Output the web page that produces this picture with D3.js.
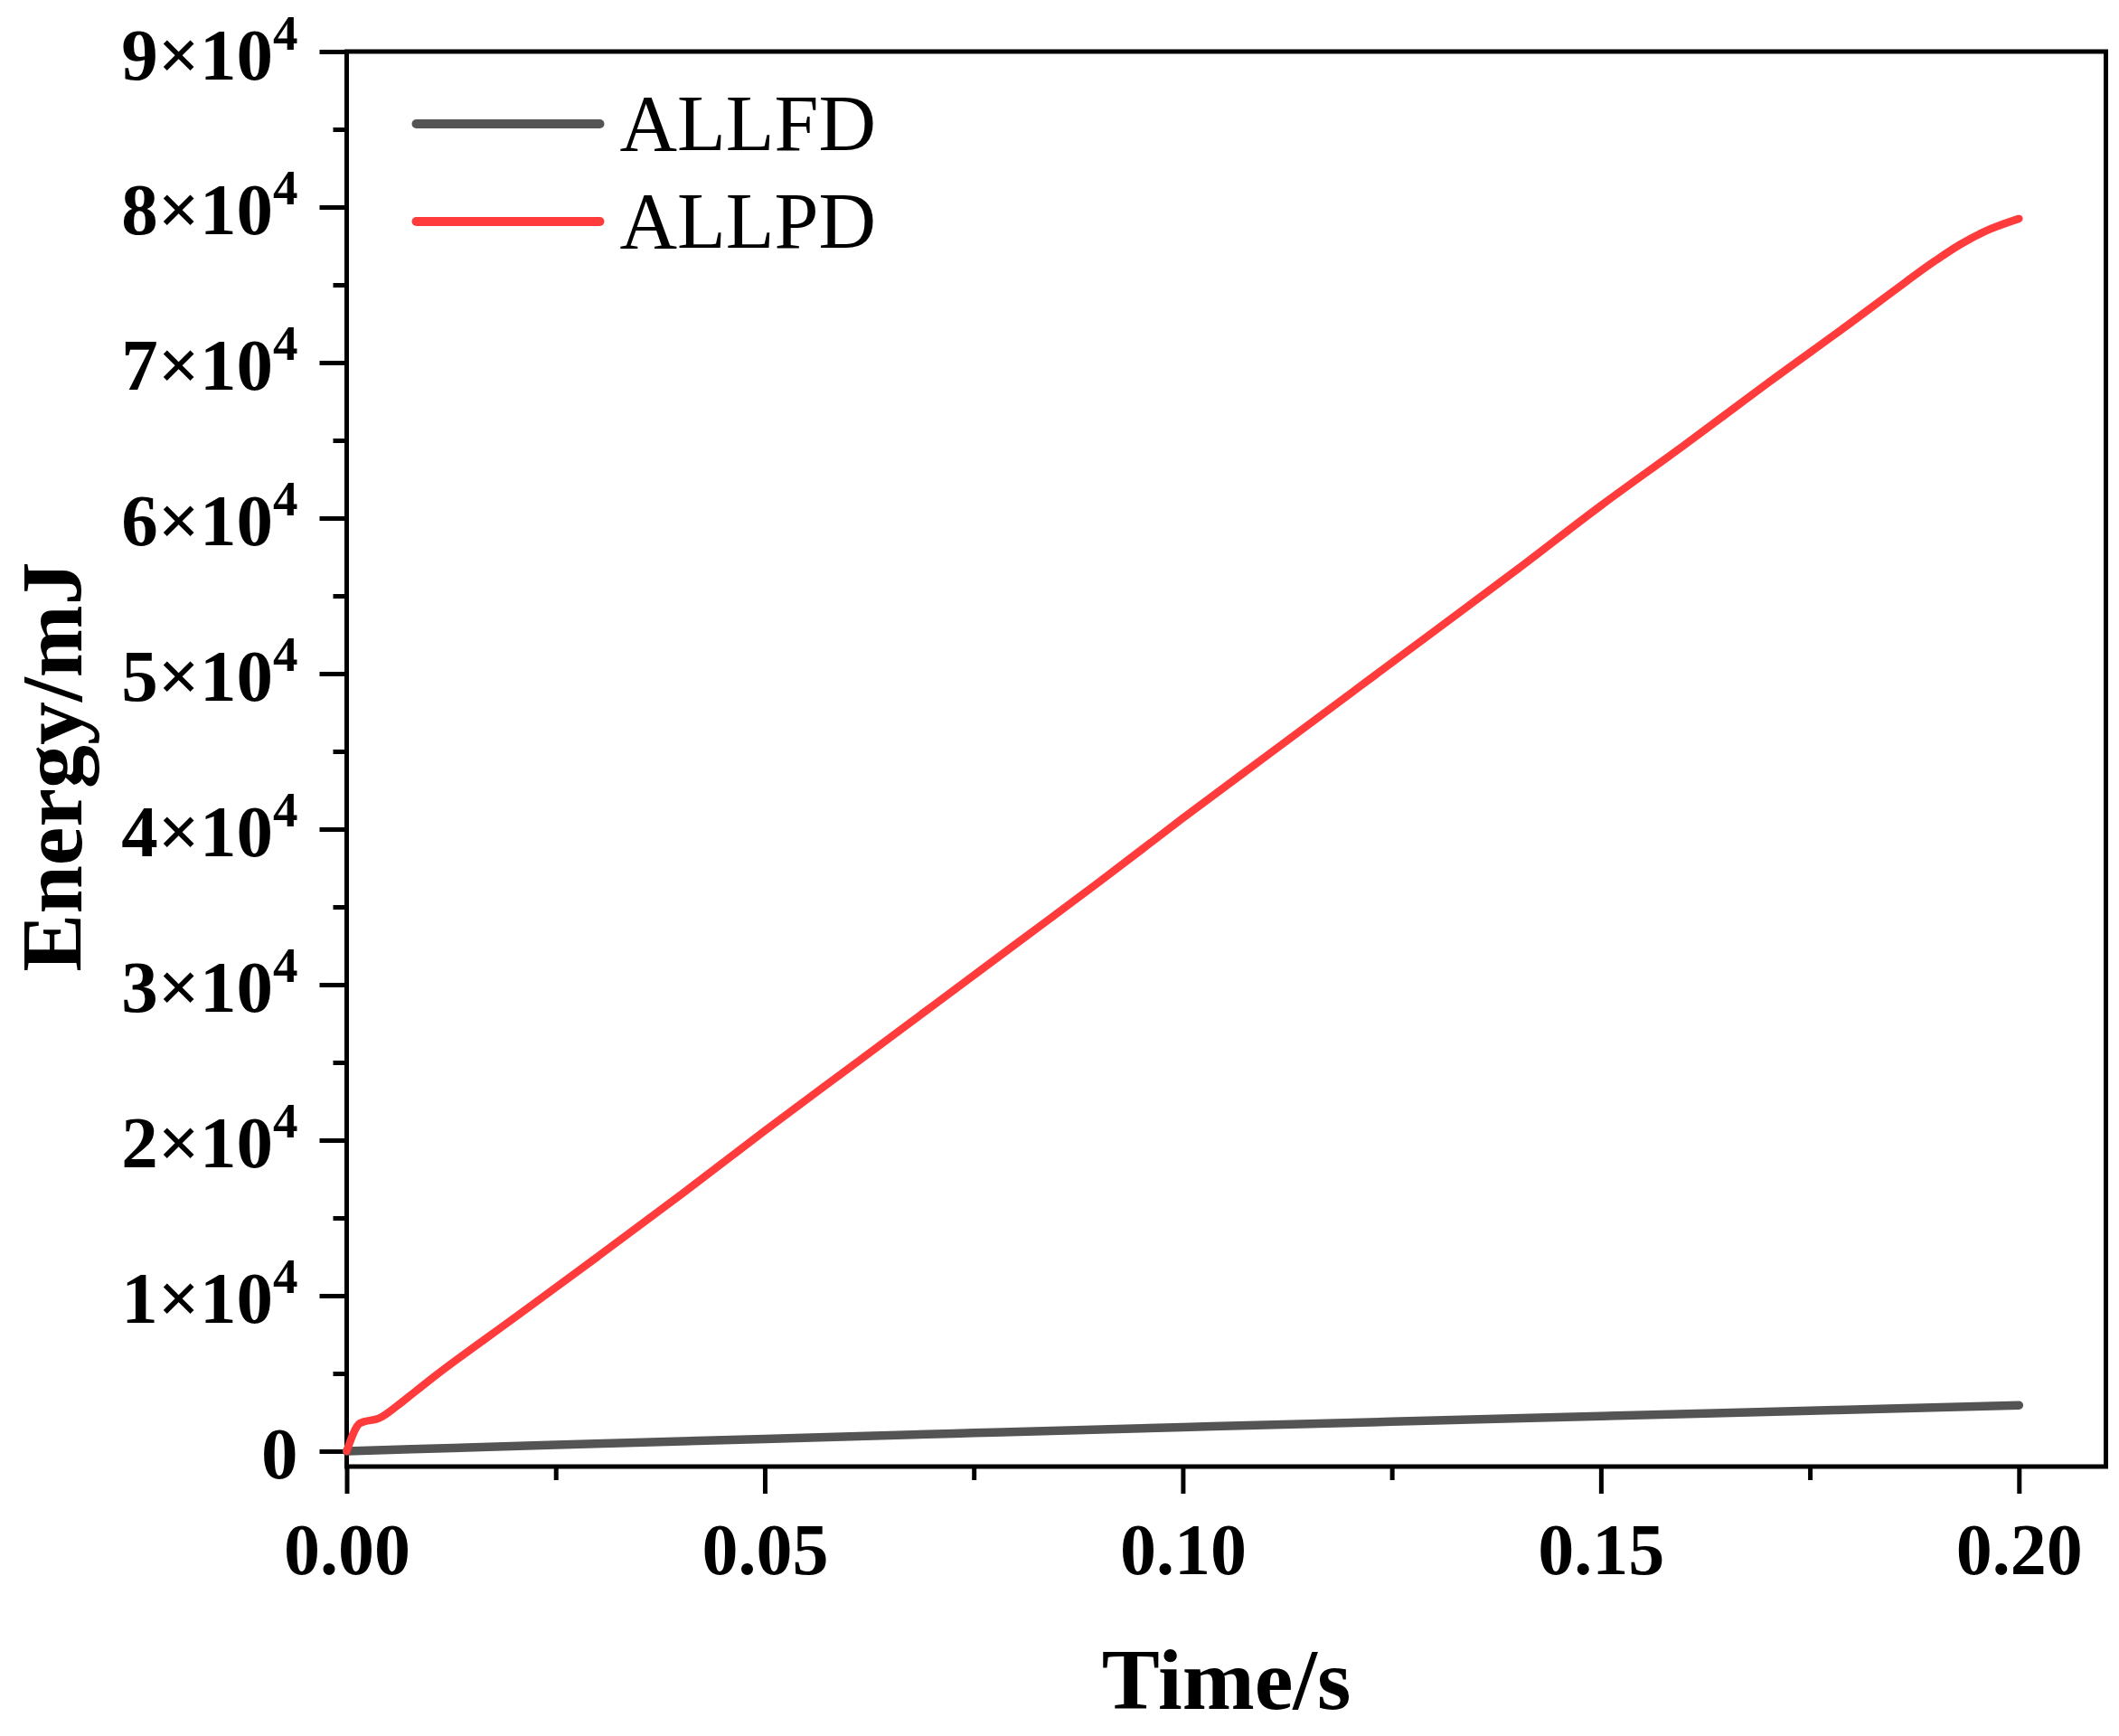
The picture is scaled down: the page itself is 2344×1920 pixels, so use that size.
<!DOCTYPE html>
<html>
<head>
<meta charset="utf-8">
<script src="https://cdn.jsdelivr.net/npm/d3@7"></script>
<style>
  body { margin: 0; background: #fff; }
  text { font-family: "Liberation Serif", "Times New Roman", serif; }
</style>
</head>
<body>
<div id="chart"></div>
<script>
// data
let timeFD = [0, 0.025, 0.05, 0.075, 0.10, 0.125, 0.15, 0.175, 0.20];
let allfd  = [0, 400, 790, 1170, 1540, 1900, 2250, 2600, 2950];

let timePD = [0, 0.0016, 0.004, 0.006, 0.008, 0.01, 0.02, 0.03, 0.04, 0.05, 0.06, 0.07,
              0.08, 0.09, 0.10, 0.11, 0.12, 0.13, 0.14, 0.15, 0.16, 0.17, 0.18, 0.185,
              0.19, 0.193, 0.196, 0.20];
let allpd  = [0, 1800, 2150, 2900, 3750, 4600, 8550, 12500, 16500, 20600, 24600, 28600,
              32600, 36600, 40700, 44700, 48700, 52700, 56700, 60800, 64700, 68700, 72600, 74600,
              76550, 77600, 78450, 79250];

let seriesNames = ["ALLFD", "ALLPD"];
let seriesColors = ["#545454", "#ff3b3b"];

let xTicks = [0, 0.05, 0.10, 0.15, 0.20];
let xMinor = [0.025, 0.075, 0.125, 0.175];
let yTicks = [0, 10000, 20000, 30000, 40000, 50000, 60000, 70000, 80000, 90000];
let yMinor = [5000, 15000, 25000, 35000, 45000, 55000, 65000, 75000, 85000];

let W = 2344, H = 1920;
let margin = {top: 57, right: 14.5, bottom: 298, left: 383.5};
let width = W - margin.left - margin.right;
let height = H - margin.top - margin.bottom;

let svg = d3.select('#chart')
    .append('svg')
    .attr('width', W)
    .attr('height', H)
    .append('g')
    .attr('transform', 'translate(' + margin.left + ',' + margin.top + ')');

let xScale = d3.scaleLinear().domain([0, 0.2104]).range([0, width]);
let yScale = d3.scaleLinear().domain([-990, 90000]).range([height, 0]);

// minor ticks
svg.append('g')
    .attr('transform', 'translate(0,' + height + ')')
    .call(d3.axisBottom(xScale).tickValues(xMinor).tickSize(15).tickFormat(''))
    .call(g => g.select('.domain').remove())
    .selectAll('line').attr('stroke', '#000').attr('stroke-width', 5);

svg.append('g')
    .call(d3.axisLeft(yScale).tickValues(yMinor).tickSize(15).tickFormat(''))
    .call(g => g.select('.domain').remove())
    .selectAll('line').attr('stroke', '#000').attr('stroke-width', 5);

// major x ticks
let xAxis = svg.append('g')
    .attr('transform', 'translate(0,' + height + ')')
    .call(d3.axisBottom(xScale).tickValues(xTicks).tickSize(30).tickPadding(32)
        .tickFormat(d3.format('.2f')));
xAxis.select('.domain').remove();
xAxis.selectAll('line').attr('stroke', '#000').attr('stroke-width', 5);
xAxis.selectAll('text')
    .attr('font-size', 80)
    .attr('font-weight', 'bold')
    .attr('fill', '#000');

// major y ticks with superscript labels
let yAxis = svg.append('g')
    .call(d3.axisLeft(yScale).tickValues(yTicks).tickSize(30).tickPadding(24).tickFormat(''));
yAxis.select('.domain').remove();
yAxis.selectAll('line').attr('stroke', '#000').attr('stroke-width', 5);
yAxis.selectAll('text')
    .attr('font-size', 81)
    .attr('font-weight', 'bold')
    .attr('fill', '#000')
    .attr('dy', 30)
    .each(function (d) {
        let t = d3.select(this);
        if (d === 0) {
            t.text('0');
            return;
        }
        t.append('tspan').text((d / 10000) + '\u00d710');
        t.append('tspan').attr('font-size', 55).attr('dy', -33).text('4');
    });

// frame
svg.append('rect')
    .attr('x', 0).attr('y', 0)
    .attr('width', width).attr('height', height)
    .attr('fill', 'none')
    .attr('stroke', '#000')
    .attr('stroke-width', 5);

// lines
let line = d3.line()
    .curve(d3.curveMonotoneX)
    .x(d => xScale(d[0]))
    .y(d => yScale(d[1]));

let fdData = timeFD.map((t, i) => [t, allfd[i]]);
let pdData = timePD.map((t, i) => [t, allpd[i]]);

svg.append('path')
    .datum(fdData)
    .attr('d', line)
    .attr('fill', 'none')
    .attr('stroke', seriesColors[0])
    .attr('stroke-width', 9.5)
    .attr('stroke-linecap', 'round')
    .attr('stroke-linejoin', 'round');

svg.append('path')
    .datum(pdData)
    .attr('d', line)
    .attr('fill', 'none')
    .attr('stroke', seriesColors[1])
    .attr('stroke-width', 8.5)
    .attr('stroke-linecap', 'round')
    .attr('stroke-linejoin', 'round');

// legend
let legend = svg.append('g').attr('transform', 'translate(77,80)');
seriesNames.forEach(function (name, i) {
    let g = legend.append('g').attr('transform', 'translate(0,' + (i * 108) + ')');
    g.append('line')
        .attr('x1', 0).attr('x2', 203)
        .attr('y1', 0).attr('y2', 0)
        .attr('stroke', seriesColors[i])
        .attr('stroke-width', 10)
        .attr('stroke-linecap', 'round');
    g.append('text')
        .attr('x', 225)
        .attr('y', 29)
        .attr('font-size', 88)
        .attr('fill', '#000')
        .text(name);
});

// axis titles
svg.append('text')
    .attr('x', width / 2)
    .attr('y', height + 268)
    .attr('text-anchor', 'middle')
    .attr('font-size', 96)
    .attr('font-weight', 'bold')
    .text('Time/s');

svg.append('text')
    .attr('transform', 'translate(' + (90 - margin.left) + ',' + (848 - margin.top) + ') rotate(-90)')
    .attr('text-anchor', 'middle')
    .attr('font-size', 96)
    .attr('font-weight', 'bold')
    .text('Energy/mJ');
</script>
</body>
</html>
